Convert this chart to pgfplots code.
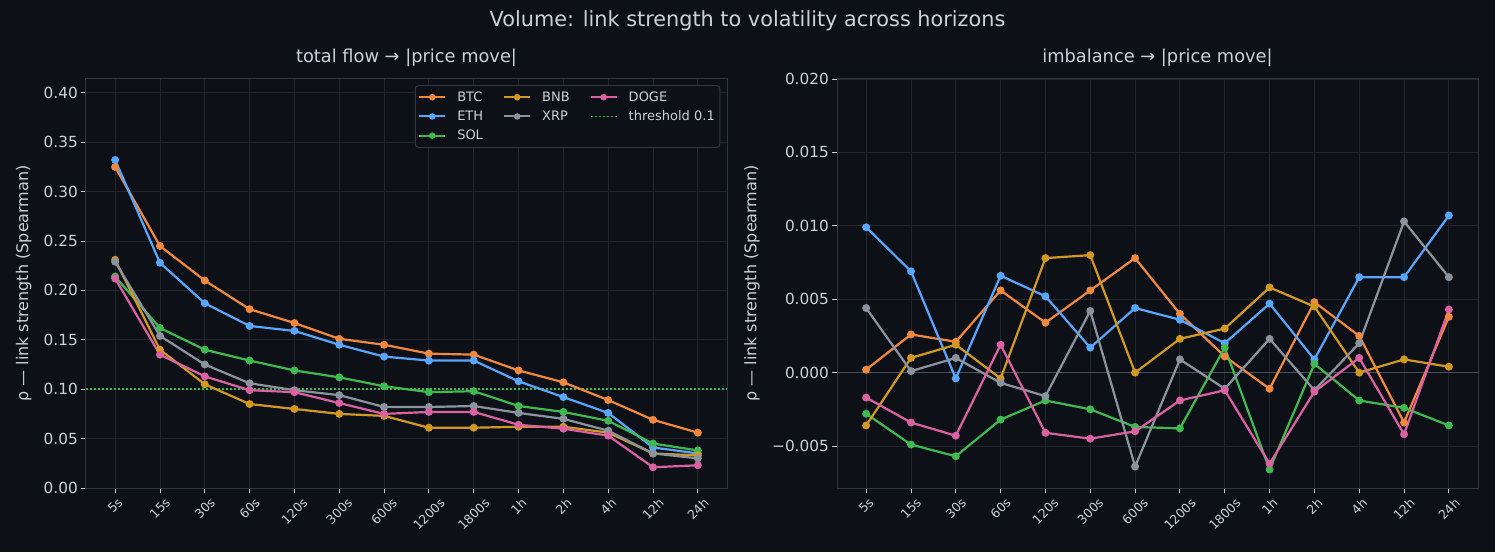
\documentclass[border=0pt]{standalone}
\usepackage{fontspec}
\setmainfont{DejaVu Sans}
\usepackage{graphicx}
\usepackage{pgfplots}
\usepackage{pgfplotstable}
\pgfplotsset{compat=1.18}

\definecolor{bg}{HTML}{0D1117}
\definecolor{gridc}{HTML}{21262D}
\definecolor{spine}{HTML}{30363D}
\definecolor{txt}{HTML}{C9D1D9}
\definecolor{zeroc}{HTML}{484F58}
\definecolor{btc}{HTML}{F0883E}
\definecolor{eth}{HTML}{58A6FF}
\definecolor{sol}{HTML}{3FB950}
\definecolor{bnb}{HTML}{D29922}
\definecolor{xrp}{HTML}{8B949E}
\definecolor{doge}{HTML}{DB61A2}

% Spearman rho, total flow vs |price move|
\pgfplotstableread{
x btc eth sol bnb xrp doge
0 0.325 0.332 0.214 0.231 0.229 0.212
1 0.245 0.228 0.162 0.140 0.154 0.135
2 0.210 0.187 0.140 0.105 0.125 0.113
3 0.181 0.164 0.129 0.085 0.106 0.099
4 0.167 0.159 0.119 0.080 0.099 0.097
5 0.151 0.145 0.112 0.075 0.094 0.086
6 0.145 0.133 0.103 0.073 0.082 0.075
7 0.136 0.129 0.097 0.061 0.082 0.077
8 0.135 0.129 0.098 0.061 0.083 0.077
9 0.119 0.108 0.083 0.062 0.076 0.064
10 0.107 0.092 0.077 0.062 0.070 0.060
11 0.089 0.076 0.068 0.056 0.058 0.053
12 0.069 0.041 0.045 0.035 0.035 0.021
13 0.056 0.035 0.038 0.033 0.030 0.023
}\flowtab

% Spearman rho, imbalance vs |price move|
\pgfplotstableread{
x btc eth sol bnb xrp doge
0 0.0002 0.0099 -0.0028 -0.0036 0.0044 -0.0017
1 0.0026 0.0069 -0.0049 0.0010 0.0001 -0.0034
2 0.0021 -0.0004 -0.0057 0.0019 0.0010 -0.0043
3 0.0056 0.0066 -0.0032 -0.0004 -0.0007 0.0019
4 0.0034 0.0052 -0.0019 0.0078 -0.0016 -0.0041
5 0.0056 0.0017 -0.0025 0.0080 0.0042 -0.0045
6 0.0078 0.0044 -0.0037 0.0000 -0.0064 -0.0040
7 0.0040 0.0036 -0.0038 0.0023 0.0009 -0.0019
8 0.0011 0.0020 0.0017 0.0030 -0.0011 -0.0012
9 -0.0011 0.0047 -0.0066 0.0058 0.0023 -0.0062
10 0.0048 0.0009 0.0006 0.0045 -0.0012 -0.0013
11 0.0025 0.0065 -0.0019 0.0000 0.0020 0.0010
12 -0.0034 0.0065 -0.0024 0.0009 0.0103 -0.0042
13 0.0038 0.0107 -0.0036 0.0004 0.0065 0.0043
}\imbtab

% horizon labels, each turned by 45 degrees inside its own box
\newcommand\rl[1]{\rotatebox{45}{#1}}

\pgfplotsset{
  ser/.style={line width=2.2pt, mark=*, mark size=2.8pt, mark options={solid}},
  leg/.style={line width=2pt, mark=*, mark size=2.2pt, mark options={solid}},
  thr/.style={sol, line width=1.6pt, dash pattern=on 2pt off 2pt},
  darkpanel/.style={
    scale only axis, width=641pt, height=409pt,
    xmin=-0.65, xmax=13.65,
    xtick={0,...,13},
    xticklabels={\rl{5s},\rl{15s},\rl{30s},\rl{60s},\rl{120s},\rl{300s},\rl{600s},\rl{1200s},\rl{1800s},\rl{1h},\rl{2h},\rl{4h},\rl{12h},\rl{24h}},
    xticklabel style={anchor=north, font=\fontsize{12.5}{14}\selectfont, inner sep=1pt, yshift=-3pt},
    yticklabel style={font=\fontsize{15.3}{17}\selectfont, inner sep=2pt, xshift=-1pt},
    tick pos=left, tick align=outside,
    major tick length=5pt,
    every tick/.style={draw=txt, line width=0.9pt},
    grid=major,
    grid style={draw=gridc, line width=0.9pt},
    axis line style={draw=spine, line width=1pt},
    tick label style={color=txt},
    label style={color=txt, font=\fontsize{16}{19}\selectfont},
    title style={color=txt, font=\fontsize{17.8}{21}\selectfont, at={(axis description cs:0.5,1)}, anchor=base, yshift=10.5pt},
    scaled y ticks=false,
    legend image code/.code={\draw[mark repeat=2,mark phase=2] plot coordinates {(0pt,0pt) (13pt,0pt) (26pt,0pt)};},
  },
}

\begin{document}
\begin{tikzpicture}
\fill[bg] (0,0) rectangle (1495pt,552pt);
\useasboundingbox (0,0) rectangle (1495pt,552pt);

\node[txt, font=\fontsize{20.8}{24}\selectfont, anchor=base] at (747.5pt,525.5pt) {Volume: link strength to volatility across horizons};

\begin{axis}[darkpanel,
  at={(86pt,64pt)}, anchor=south west,
  ymin=0, ymax=0.414,
  ytick={0,0.05,0.10,0.15,0.20,0.25,0.30,0.35,0.40},
  yticklabels={0.00,0.05,0.10,0.15,0.20,0.25,0.30,0.35,0.40},
  title={total flow → |price move|},
  ylabel={ρ — link strength (Spearman)},
  ylabel style={at={(axis description cs:-0.097,0.5)}, anchor=center, rotate=0},
  legend columns=3,
  legend cell align=left,
  legend style={at={(axis description cs:0.9895,0.985)}, anchor=north east,
    fill=bg, draw=spine, line width=1pt, rounded corners=3pt,
    text=txt, font=\fontsize{13}{15}\selectfont,
    inner xsep=3pt, inner ysep=4pt, row sep=4pt,
    /tikz/every odd column/.append style={column sep=9pt},
    /tikz/every even column/.append style={column sep=18pt}},
]
\addplot[thr, forget plot] coordinates {(-0.65,0.1) (13.65,0.1)};
\addplot[ser, btc, forget plot] table[x=x, y=btc] {\flowtab};
\addplot[ser, eth, forget plot] table[x=x, y=eth] {\flowtab};
\addplot[ser, sol, forget plot] table[x=x, y=sol] {\flowtab};
\addplot[ser, bnb, forget plot] table[x=x, y=bnb] {\flowtab};
\addplot[ser, xrp, forget plot] table[x=x, y=xrp] {\flowtab};
\addplot[ser, doge, forget plot] table[x=x, y=doge] {\flowtab};
% legend laid out column by column
\addlegendimage{leg, btc}\addlegendentry{BTC}
\addlegendimage{leg, bnb}\addlegendentry{BNB}
\addlegendimage{leg, doge}\addlegendentry{DOGE}
\addlegendimage{leg, eth}\addlegendentry{ETH}
\addlegendimage{leg, xrp}\addlegendentry{XRP}
\addlegendimage{thr}\addlegendentry{threshold 0.1}
\addlegendimage{leg, sol}\addlegendentry{SOL}
\end{axis}

\begin{axis}[darkpanel,
  at={(837pt,64pt)}, anchor=south west,
  ymin=-0.00786, ymax=0.0200,
  ytick={-0.005,0,0.005,0.010,0.015,0.020},
  yticklabels={−0.005,0.000,0.005,0.010,0.015,0.020},
  title={imbalance → |price move|},
  ylabel={ρ — link strength (Spearman)},
  ylabel style={at={(axis description cs:-0.1326,0.5)}, anchor=center, rotate=0},
]
\addplot[zeroc, line width=1.3pt, forget plot] coordinates {(-0.65,0) (13.65,0)};
\addplot[ser, btc] table[x=x, y=btc] {\imbtab};
\addplot[ser, eth] table[x=x, y=eth] {\imbtab};
\addplot[ser, sol] table[x=x, y=sol] {\imbtab};
\addplot[ser, bnb] table[x=x, y=bnb] {\imbtab};
\addplot[ser, xrp] table[x=x, y=xrp] {\imbtab};
\addplot[ser, doge] table[x=x, y=doge] {\imbtab};
\end{axis}
\end{tikzpicture}
\end{document}
